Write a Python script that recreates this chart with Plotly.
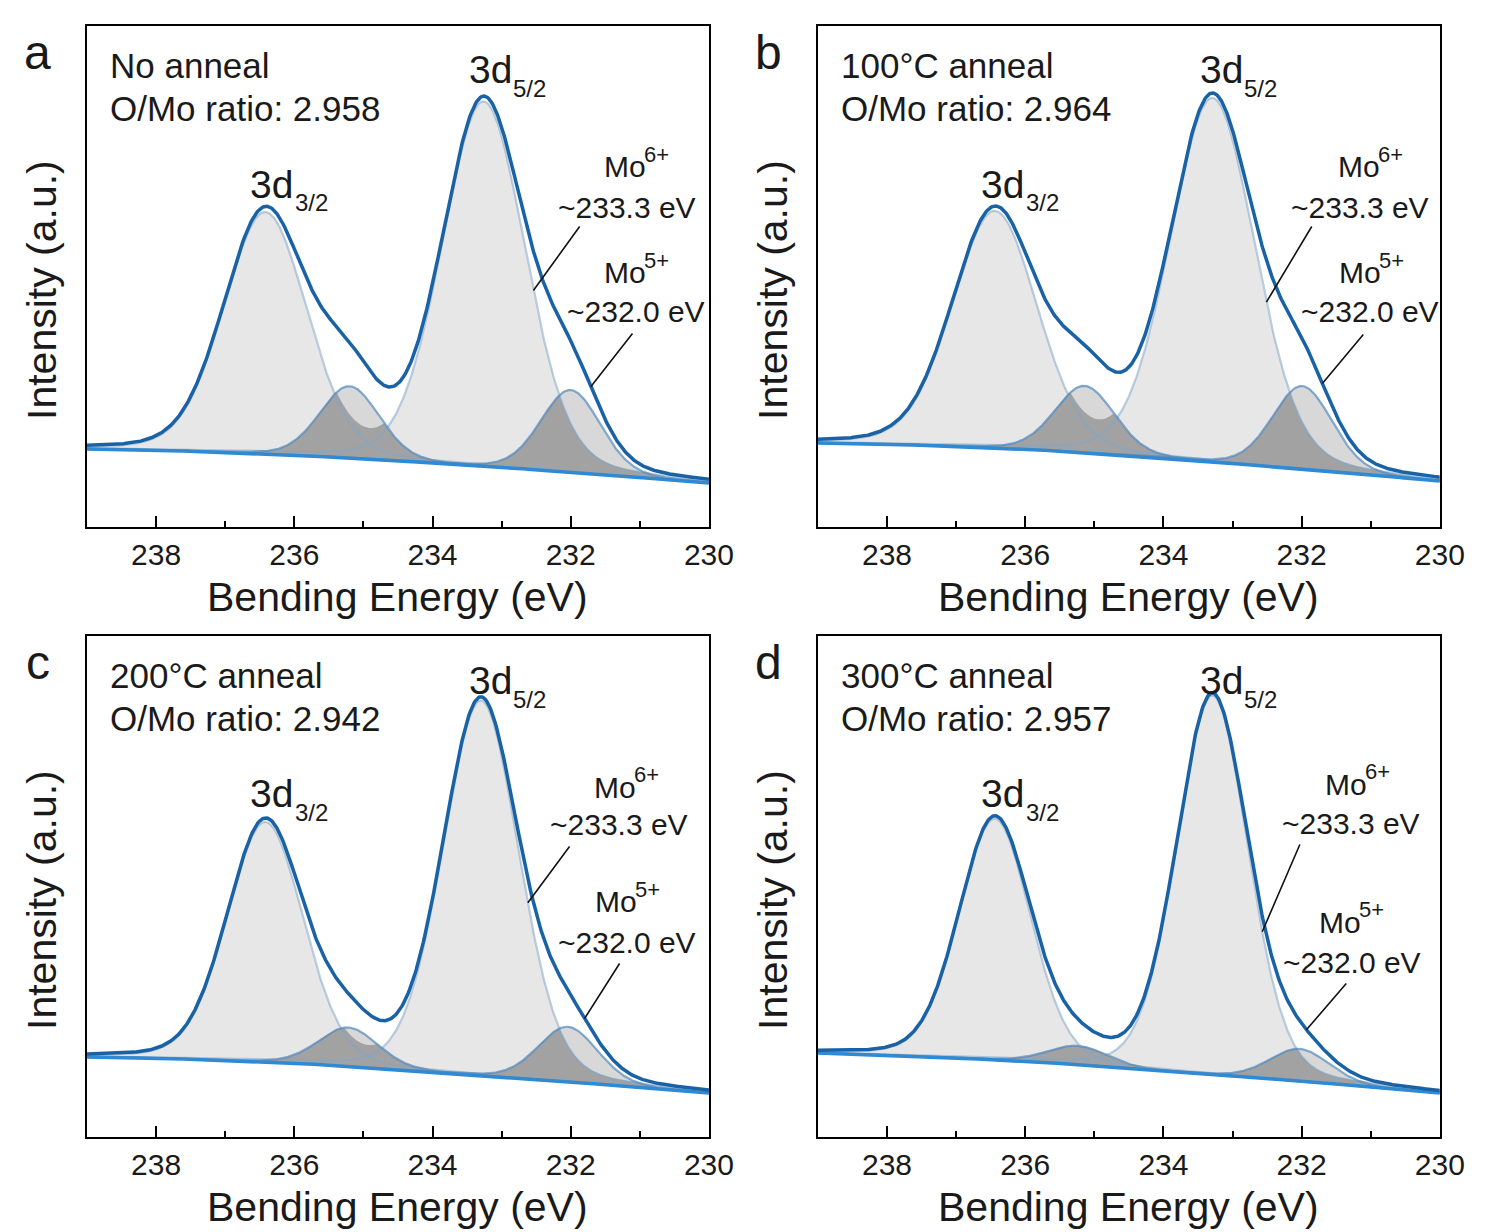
import numpy as np
import plotly.graph_objects as go

W, H = 1486, 1232

PANEL_LETTERS = ["a", "b", "c", "d"]
CONDITIONS = ["No anneal", "100°C anneal", "200°C anneal", "300°C anneal"]
OMO_RATIOS = ["2.958", "2.964", "2.942", "2.957"]

# Fitted Mo 3d components: centre (eV), height above background (a.u.), FWHM (eV)
MO6_52_CENTER = [233.26, 233.29, 233.30, 233.29]
MO6_52_HEIGHT = [365, 364, 375, 379]
MO6_32_CENTER = [236.42, 236.44, 236.42, 236.44]
MO6_32_HEIGHT = [242, 237, 240, 241]
MO6_FWHM = [1.42, 1.45, 1.30, 1.22]
MO5_52_CENTER = [232.00, 231.99, 232.04, 232.03]
MO5_52_HEIGHT = [82, 83, 55, 32]
MO5_32_CENTER = [235.20, 235.14, 235.22, 235.24]
MO5_32_HEIGHT = [72, 67, 39, 19]
MO5_FWHM = [1.02, 1.02, 1.02, 1.02]
LORENTZ_FRACTION = 0.15

# Background level (a.u.) at the given binding energies
BG_ENERGY = [239, 238, 236, 234, 232, 230]
BG_LEVEL = [
    [78, 77, 72, 64, 55, 44],
    [84, 83, 78, 69, 58, 46],
    [80, 79, 74, 65, 55, 44],
    [84, 82, 76, 66, 56, 44],
]

# Energies at which the Mo6+/Mo5+ leader lines touch the curves
MO6_TIP_E = [232.54, 232.51, 232.62, 232.57]
MO5_TIP_E = [231.71, 231.70, 231.80, 231.93]

X_RANGE = [239, 230]
Y_RANGE = [0, 501]
X_TICKS = [238, 236, 234, 232, 230]

# ---- layout geometry (pixels) ----
XS = 1.017          # horizontal scale of the drawing grid
ORIG = [(87, 26), (818, 26), (87, 636), (818, 636)]
PW, PH = 622, 501

FONT = "Arial, 'Liberation Sans', sans-serif"
TXT = "#1a1a1a"
ENV_COLOR = "#1a62a6"
BG_COLOR = "#2f8ad3"
MO6_FILL = "#e7e7e7"
MO5_FILL = "#d8d8d8"
OVERLAP_FILL = "#a2a2a2"
MO6_LINE = "rgba(130,165,200,0.55)"
MO5_LINE = "rgba(80,135,190,0.7)"


def pv(e, c, h, w, eta=LORENTZ_FRACTION):
    d2 = (e - c) ** 2 / w ** 2
    g = np.exp(-4 * np.log(2) * d2)
    lo = 1.0 / (1.0 + 4 * d2)
    return h * ((1 - eta) * g + eta * lo)


def data_to_px(i, e, v):
    x0, y0 = ORIG[i]
    px = x0 + (X_RANGE[0] - e) / (X_RANGE[0] - X_RANGE[1]) * PW
    py = y0 + PH - (v - Y_RANGE[0]) / (Y_RANGE[1] - Y_RANGE[0]) * PH
    return px, py


def paper_x(x):
    return x * XS / W


def paper_y(y):
    return 1 - y / H


fig = go.Figure()
annotations = []


def add_text(i, rx, ry, text, size, xanchor="left", yanchor="middle", angle=0):
    x0, y0 = ORIG[i]
    annotations.append(dict(
        x=paper_x(x0 + rx), y=paper_y(y0 + ry), xref="paper", yref="paper",
        text=text, showarrow=False, xanchor=xanchor, yanchor=yanchor,
        textangle=angle, font=dict(family=FONT, size=size, color=TXT),
    ))


def poly(xs, top, bottom):
    return np.concatenate([xs, xs[::-1]]), np.concatenate([top, bottom[::-1]])


energy = np.linspace(X_RANGE[0], X_RANGE[1], 700)

# per-panel label placement (pixels relative to the panel's top-left corner)
MO6_LABEL = [(515, 141, 540, 181), (518, 141, 542, 181), (505, 151, 532, 189), (505, 148, 533, 188)]
MO5_LABEL = [(515, 247, 549, 285), (519, 247, 552, 285), (506, 266, 540, 306), (499, 286, 534, 326)]
MO6_TAIL = [(493, 199), (494, 199), (483, 209), (482, 207)]
MO5_TAIL = [(546, 306), (546, 307), (533, 326), (529, 346)]

for i in range(4):
    ax_id = "" if i == 0 else str(i + 1)
    xa, ya = "x" + ax_id, "y" + ax_id
    bg = np.interp(energy[::-1], BG_ENERGY[::-1], BG_LEVEL[i][::-1])[::-1]

    mo6 = [pv(energy, MO6_52_CENTER[i], MO6_52_HEIGHT[i], MO6_FWHM[i]),
           pv(energy, MO6_32_CENTER[i], MO6_32_HEIGHT[i], MO6_FWHM[i])]
    mo5 = [pv(energy, MO5_52_CENTER[i], MO5_52_HEIGHT[i], MO5_FWHM[i]),
           pv(energy, MO5_32_CENTER[i], MO5_32_HEIGHT[i], MO5_FWHM[i])]
    mo6_total = mo6[0] + mo6[1]
    envelope = bg + mo6_total + mo5[0] + mo5[1]

    common = dict(xaxis=xa, yaxis=ya, showlegend=False, hoverinfo="skip")

    # Mo6+ component areas
    for comp in mo6:
        px_, py_ = poly(energy, bg + comp, bg)
        fig.add_trace(go.Scatter(x=px_, y=py_, fill="toself", fillcolor=MO6_FILL,
                                 mode="none", **common))
    # Mo5+ component areas
    for comp in mo5:
        px_, py_ = poly(energy, bg + comp, bg)
        fig.add_trace(go.Scatter(x=px_, y=py_, fill="toself", fillcolor=MO5_FILL,
                                 mode="none", **common))
    # where Mo5+ lies under a Mo6+ component the shading darkens
    for comp in mo5:
        px_, py_ = poly(energy, bg + np.minimum(comp, mo6_total), bg)
        fig.add_trace(go.Scatter(x=px_, y=py_, fill="toself", fillcolor=OVERLAP_FILL,
                                 mode="none", **common))

    for comp in mo6:
        fig.add_trace(go.Scatter(x=energy, y=bg + comp, mode="lines",
                                 line=dict(color=MO6_LINE, width=2.2), **common))
    for comp in mo5:
        fig.add_trace(go.Scatter(x=energy, y=bg + comp, mode="lines",
                                 line=dict(color=MO5_LINE, width=2.2), **common))

    fig.add_trace(go.Scatter(x=energy, y=bg, mode="lines",
                             line=dict(color=BG_COLOR, width=3.5), **common))
    fig.add_trace(go.Scatter(x=energy, y=envelope, mode="lines",
                             line=dict(color=ENV_COLOR, width=3.5), **common))

    # axes
    x0, y0 = ORIG[i]
    fig.update_layout({
        "xaxis" + ax_id: dict(
            domain=[paper_x(x0), paper_x(x0 + PW)], anchor=ya, range=X_RANGE,
            tickmode="array", tickvals=X_TICKS, ticktext=[str(t) for t in X_TICKS],
            ticks="inside", ticklen=11, tickwidth=2, tickcolor="black",
            minor=dict(ticks="inside", ticklen=6, tickwidth=2, tickcolor="black",
                       tickmode="array", tickvals=[237, 235, 233, 231]),
            showline=True, linewidth=2, linecolor="black", mirror=True,
            showgrid=False, zeroline=False,
            tickfont=dict(family=FONT, size=30, color=TXT),
        ),
        "yaxis" + ax_id: dict(
            domain=[paper_y(y0 + PH), paper_y(y0)], anchor=xa, range=Y_RANGE,
            showticklabels=False, ticks="", showline=True, linewidth=2,
            linecolor="black", mirror=True, showgrid=False, zeroline=False,
        ),
    })

    # texts
    add_text(i, -49, 26, PANEL_LETTERS[i], 48, xanchor="center")
    add_text(i, 21, 39, CONDITIONS[i], 35)
    add_text(i, 21, 82, "O/Mo ratio: " + OMO_RATIOS[i], 35)
    add_text(i, 161, 158, "3d", 39)
    add_text(i, 206, 176, "3/2", 24)
    add_text(i, 380, 44, "3d", 39)
    add_text(i, 424, 63, "5/2", 24)

    mx, my, ex, ey = MO6_LABEL[i]
    add_text(i, mx, my, "Mo", 30)
    add_text(i, mx + 40, my - 13, "6+", 22)
    add_text(i, ex, ey, "~233.3 eV", 30, xanchor="center")
    mx, my, ex, ey = MO5_LABEL[i]
    add_text(i, mx, my, "Mo", 30)
    add_text(i, mx + 40, my - 13, "5+", 22)
    add_text(i, ex, ey, "~232.0 eV", 30, xanchor="center")

    add_text(i, -45, 264, "Intensity (a.u.)", 41, xanchor="center", angle=-90)
    add_text(i, PW / 2, 571, "Bending Energy (eV)", 41, xanchor="center")

    # leader lines
    e6 = MO6_TIP_E[i]
    v6 = np.interp(e6, energy[::-1], (bg + mo6[0])[::-1])
    e5 = MO5_TIP_E[i]
    v5 = np.interp(e5, energy[::-1], envelope[::-1])
    for (e, v, tail) in [(e6, v6, MO6_TAIL[i]), (e5, v5, MO5_TAIL[i])]:
        tx, ty = data_to_px(i, e, v)
        annotations.append(dict(
            x=e, y=v, xref=xa, yref=ya, showarrow=True, arrowhead=0,
            arrowwidth=1.6, arrowcolor="#111111", standoff=0,
            ax=((x0 + tail[0]) - tx) * XS, ay=(y0 + tail[1]) - ty, text="",
        ))

fig.update_layout(
    width=W, height=H, margin=dict(l=0, r=0, t=0, b=0),
    paper_bgcolor="white", plot_bgcolor="white",
    annotations=annotations,
)

fig.write_html("out.html")
